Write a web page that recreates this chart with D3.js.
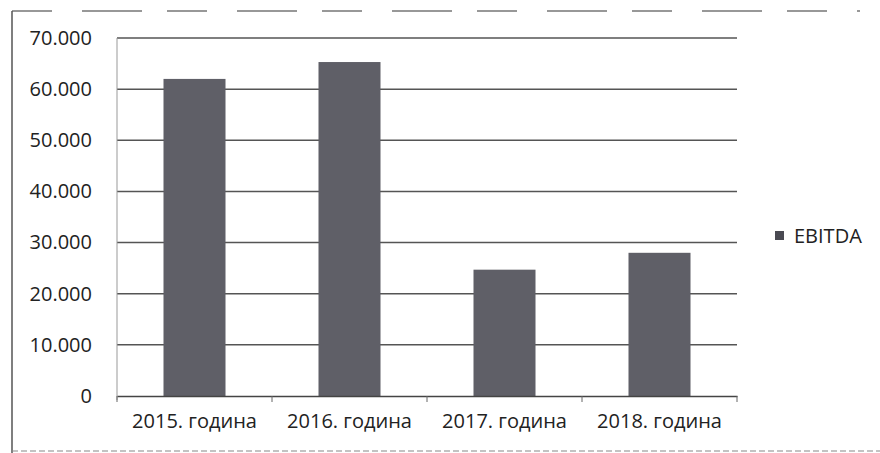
<!DOCTYPE html>
<html><head><meta charset="utf-8">
<script src="https://cdn.jsdelivr.net/npm/d3@7"></script>
<style>body{margin:0;background:#fff}svg{display:block}</style>
</head><body>
<script>
const categories = ["2015. година","2016. година","2017. година","2018. година"];
const ebitda = [62000, 65300, 24700, 28000];
const yTicks = [0,10000,20000,30000,40000,50000,60000,70000];
const seriesName = "EBITDA";

(function(){
const W=880,H=453;
const svg=d3.select("body").append("svg").attr("width",W).attr("height",H);
const font="'Open Sans', sans-serif";
const pL=117,pR=737,pT=38,pB=396;

const x=d3.scaleBand().domain(categories).range([pL,pR]).paddingInner(0.6).paddingOuter(0.3);
const y=d3.scaleLinear().domain([0,70000]).range([pB,pT]);
const fmt=v=>d3.format(",")(v).replace(/,/g,".");

// outer frame
svg.append("line").attr("x1",12).attr("x2",860).attr("y1",11).attr("y2",11).attr("stroke","#777").attr("stroke-width",1.5).attr("stroke-dasharray","40 30 60 25");
svg.append("line").attr("x1",12).attr("x2",12).attr("y1",11).attr("y2",453).attr("stroke","#555").attr("stroke-width",1.5);
svg.append("line").attr("x1",12).attr("x2",880).attr("y1",451).attr("y2",451).attr("stroke","#888").attr("stroke-width",1.2).attr("stroke-dasharray","6 3");

// gridlines
svg.append("g").selectAll("line").data(yTicks.filter(d=>d>0)).join("line")
 .attr("x1",pL).attr("x2",pR).attr("y1",d=>y(d)).attr("y2",d=>y(d))
 .attr("stroke","#555").attr("stroke-width",1.5);

// y axis vertical line
svg.append("line").attr("x1",pL).attr("x2",pL).attr("y1",pT).attr("y2",pB+4).attr("stroke","#999").attr("stroke-width",1);

// y labels
const ya=svg.append("g").attr("transform",`translate(${pL},0)`)
 .call(d3.axisLeft(y).tickValues(yTicks).tickFormat(fmt).tickSize(0).tickPadding(25));
ya.select(".domain").remove();
ya.selectAll("text").attr("font-family",font).attr("font-size",20).attr("fill","#222");

// bars
svg.append("g").selectAll("rect").data(ebitda).join("rect")
 .attr("x",(d,i)=>x(categories[i])).attr("width",x.bandwidth())
 .attr("y",d=>y(d)).attr("height",d=>y(0)-y(d)).attr("fill","#5f5f67");

// x axis
const xa=svg.append("g").attr("transform",`translate(0,${pB})`)
 .call(d3.axisBottom(x).tickSize(0).tickPadding(18));
xa.select(".domain").attr("stroke","#444").attr("stroke-width",1.5);
xa.selectAll("text").attr("font-family",font).attr("font-size",20).attr("fill","#222");
// category boundary ticks
const bounds=d3.range(categories.length+1).map(i=>pL+i*(pR-pL)/categories.length);
svg.append("g").selectAll("line").data(bounds).join("line")
 .attr("x1",d=>d).attr("x2",d=>d).attr("y1",pB).attr("y2",pB+6).attr("stroke","#666");

// legend
svg.append("rect").attr("x",775).attr("y",231).attr("width",9).attr("height",9).attr("fill","#4a4a52");
svg.append("text").attr("x",794).attr("y",236).attr("dy","0.35em").attr("font-family",font).attr("font-size",20).attr("fill","#222").text(seriesName);
})();
</script>
</body></html>
